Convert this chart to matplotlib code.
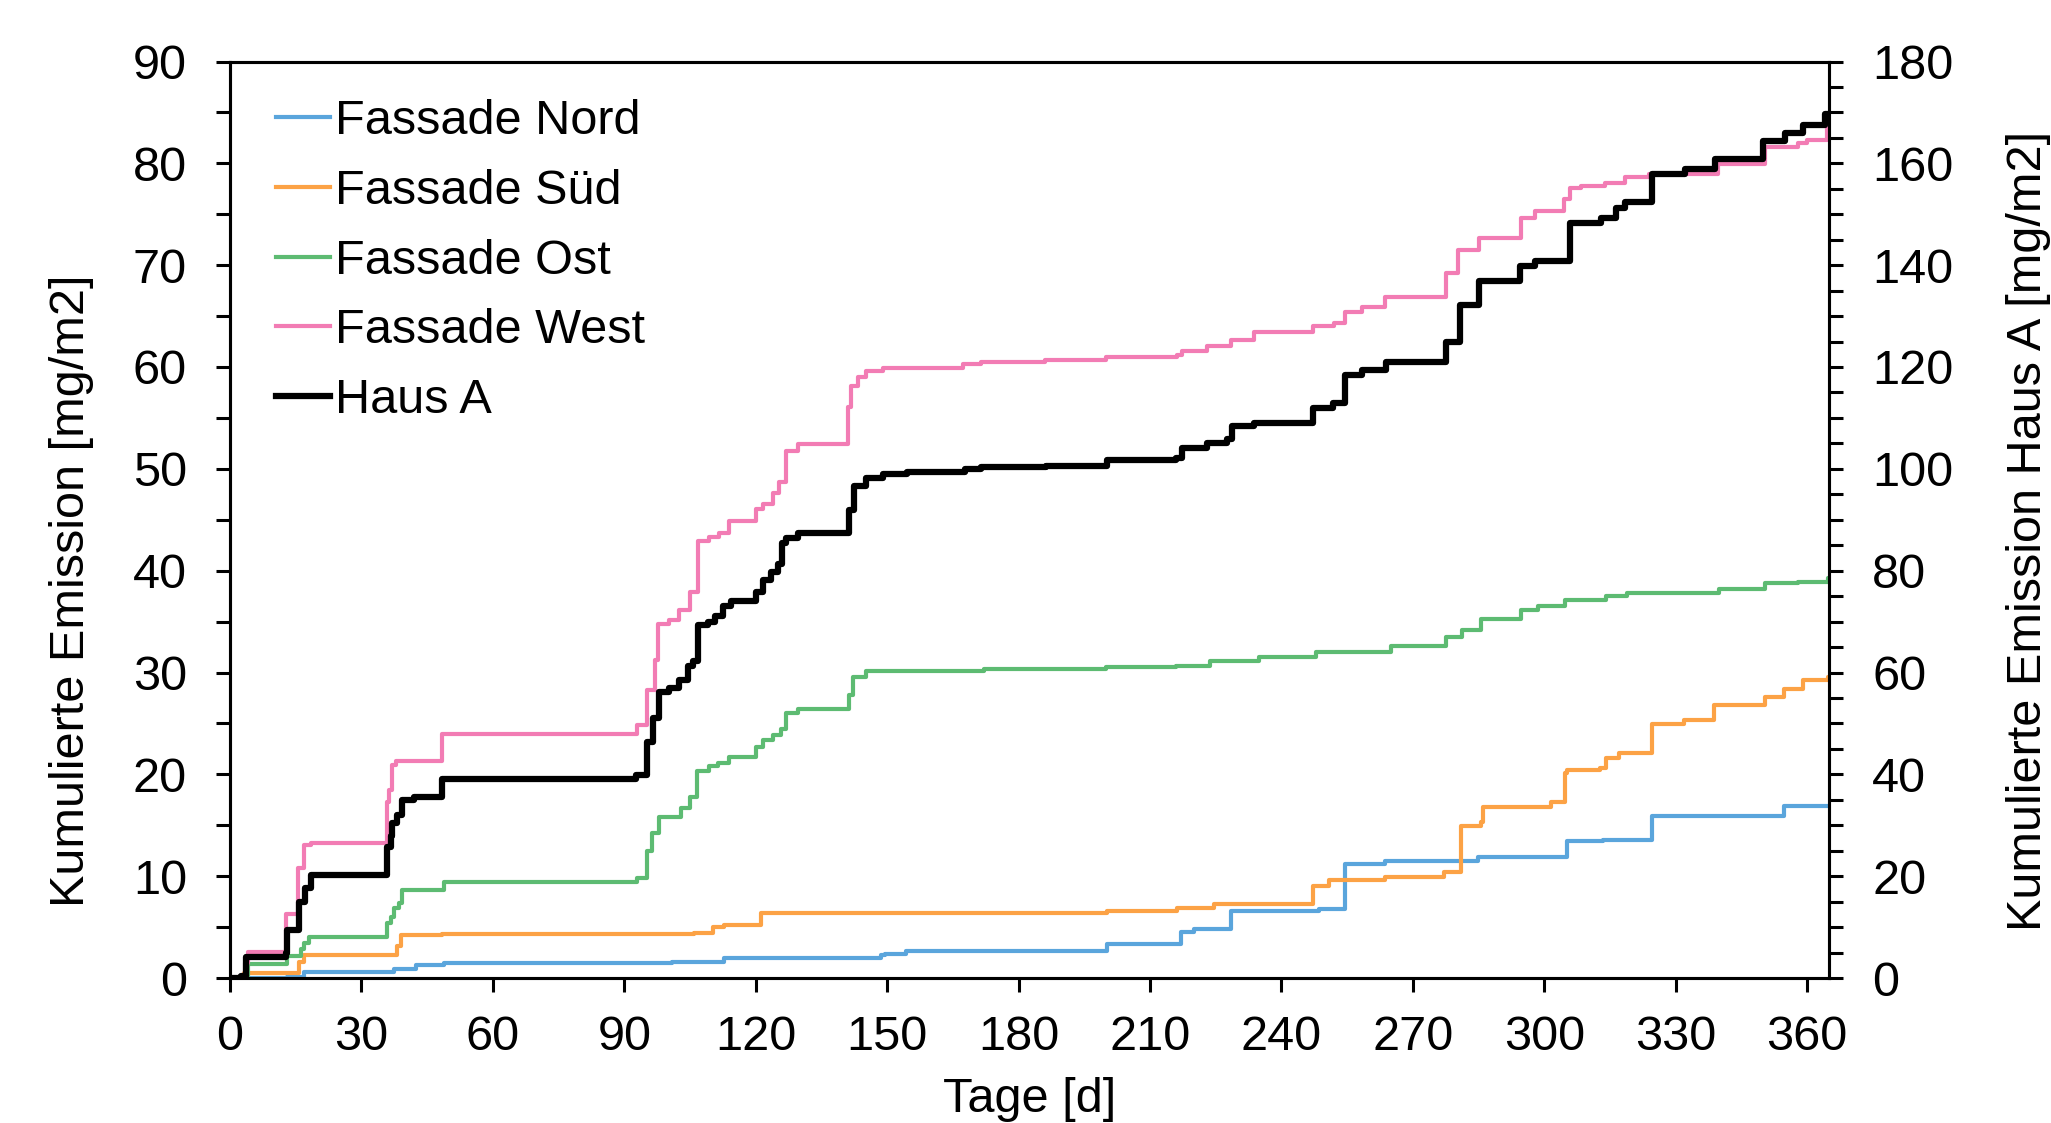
import matplotlib
matplotlib.use("Agg")
import matplotlib.pyplot as plt
from matplotlib.ticker import MultipleLocator

plt.rcParams['font.family'] = ['Liberation Sans', 'DejaVu Sans']

# ---------------- data (day, cumulative value) ----------------
nord_days = [0, 13, 16.9, 37.4, 42.4, 48.9, 101, 112.8, 148.6, 149.5, 154.3, 200.3, 217, 220.1,
             228.5, 248.6, 254.5, 263.6, 284.9, 305.2, 313.5, 324.5, 354.7, 365]
nord_vals = [0, 0.1, 0.6, 0.9, 1.3, 1.45, 1.6, 2.0, 2.26, 2.4, 2.7, 3.35, 4.5, 4.8,
             6.6, 6.8, 11.2, 11.5, 11.85, 13.45, 13.6, 15.9, 16.85, 16.9]

sued_days = [0, 3.2, 15.8, 16.9, 38.2, 39, 48.5, 105.9, 110.3, 112.8, 121.3, 200.3, 216.2, 224.6,
             247.1, 250.8, 263.6, 277.2, 280.9, 285.5, 286.1, 301.5, 304.7, 305.3, 312.7, 314, 317,
             324.5, 331.9, 338.7, 350.5, 354.8, 359.1, 364.7, 365]
sued_vals = [0, 0.5, 1.6, 2.3, 3.1, 4.2, 4.35, 4.45, 5.0, 5.2, 6.35, 6.6, 6.9, 7.3,
             9.0, 9.6, 9.95, 10.4, 14.9, 15.35, 16.8, 17.3, 20.1, 20.4, 20.6, 21.6, 22.1,
             24.95, 25.3, 26.8, 27.6, 28.35, 29.3, 29.6, 29.6]

ost_days = [0, 4, 13.1, 16.1, 17, 18, 35.9, 36.7, 37.4, 38.6, 39.3, 48.9, 93, 95.3, 96.3, 97.9,
            103, 105, 106.6, 109.4, 111.3, 114, 120.1, 121.6, 123.9, 125.8, 126.9, 129.6, 141.4,
            142.1, 145.2, 172, 200, 216, 223.6, 234.8, 247.8, 265.1, 277.5, 281.2, 285.5, 294.8,
            298.5, 304.7, 314, 319, 340, 350.5, 358, 364.7, 365]
ost_vals = [0, 1.4, 2.15, 2.8, 3.4, 4.05, 5.4, 6.0, 6.85, 7.4, 8.65, 9.45, 9.8, 12.5, 14.2, 15.85,
            16.7, 17.8, 20.3, 20.8, 21.1, 21.7, 22.7, 23.4, 23.9, 24.5, 26.0, 26.4, 27.8,
            29.6, 30.1, 30.3, 30.5, 30.65, 31.1, 31.5, 32.0, 32.6, 33.5, 34.2, 35.3, 36.1,
            36.5, 37.1, 37.5, 37.85, 38.2, 38.8, 38.9, 39.3, 39.3]

west_days = [0, 3.5, 4, 12.8, 15.5, 16.9, 18.4, 35.9, 36.4, 37, 37.8, 48.5, 93, 95.3, 96.9, 97.7,
             100.3, 102.6, 104.9, 106.8, 109.4, 111.7, 114, 120.1, 121.6, 123.9, 125.4, 126.9,
             129.6, 141, 141.7, 143.3, 145.2, 149, 167.3, 171.4, 186, 199.9, 216.2, 217.4, 223.1,
             228.4, 233.7, 247.1, 252, 254.5, 258.5, 263.7, 277.5, 280.4, 285, 294.8, 297.9,
             304.5, 305.9, 308.4, 313.9, 318.4, 323.8, 339.7, 350.4, 358, 360, 364.6, 365]
west_vals = [0, 1.5, 2.6, 6.3, 10.8, 13.1, 13.3, 17.3, 18.5, 20.9, 21.3, 24.0, 24.85, 28.3, 31.2,
             34.8, 35.2, 36.1, 37.9, 42.9, 43.3, 43.7, 44.9, 46.1, 46.5, 47.6, 48.75, 51.8, 52.4,
             56.1, 58.1, 59.0, 59.6, 59.9, 60.3, 60.5, 60.7, 61.0, 61.2, 61.6, 62.1, 62.7, 63.4,
             64.0, 64.3, 65.4, 65.9, 66.9, 69.2, 71.5, 72.7, 74.6, 75.3, 76.5, 77.6, 77.8, 78.1,
             78.7, 79.0, 79.9, 81.6, 82.0, 82.3, 83.5, 83.5]

haus_days = [0, 2.4, 3.6, 12.7, 13.1, 15.7, 17.2, 18.4, 35.9, 36.7, 37, 38.2, 39.3, 42, 48.5, 92.6,
             95.3, 96.5, 98, 100.3, 102.6, 104.5, 105.6, 106.8, 109, 110.6, 112.5, 114.4, 120.1,
             121.6, 123.5, 125, 126.1, 126.9, 129.6, 141.4, 142.5, 145.2, 149, 154.5, 167.7,
             171.4, 186.3, 200.3, 216, 217.4, 223.1, 227.5, 228.8, 233.7, 247.1, 251.7, 254.5,
             258.5, 263.8, 277.5, 280.8, 285, 294.5, 297.9, 305.9, 313, 316.4, 318.4, 324.5,
             332.1, 339, 350, 354.9, 359, 364, 365]
haus_vals = [0, 0.4, 4.2, 5.0, 9.4, 15.0, 17.6, 20.2, 25.8, 27.8, 30.4, 32.0, 35.0, 35.6, 39.0,
             39.8, 46.4, 51.0, 56.2, 57.0, 58.6, 61.2, 62.2, 69.4, 70.0, 71.0, 73.0, 74.0, 75.8,
             78.2, 79.8, 81.4, 85.4, 86.4, 87.4, 92.0, 96.6, 98.2, 99.0, 99.4, 100.0, 100.4,
             100.6, 101.8, 102.1, 104.0, 105.0, 105.8, 108.4, 109.0, 112.0, 113.0, 118.4, 119.4,
             121.0, 125.0, 132.2, 136.8, 139.8, 140.8, 148.2, 149.2, 151.2, 152.4, 158.0, 158.8,
             160.8, 164.4, 166.0, 167.6, 169.6, 169.6]

labels = ['Fassade Nord', 'Fassade Süd', 'Fassade Ost', 'Fassade West', 'Haus A']
colors = ['#5aa5dc', '#fca245', '#5dbb72', '#f27cb4', '#000000']

# ---------------- figure ----------------
fig = plt.figure(figsize=(20.51, 11.23), dpi=100)
ax = fig.add_axes([230 / 2051, 1 - 978 / 1123, (1829 - 230) / 2051, (978 - 61.5) / 1123])
ax2 = ax.twinx()

series = [(nord_days, nord_vals), (sued_days, sued_vals), (ost_days, ost_vals), (west_days, west_vals)]
handles = []
for (d, v), lab, c in zip(series, labels[:4], colors[:4]):
    h, = ax.plot(d, v, drawstyle='steps-post', color=c, lw=3.0, label=lab)
    handles.append(h)
h, = ax2.plot(haus_days, haus_vals, drawstyle='steps-post', color=colors[4], lw=4.5, label=labels[4])
handles.append(h)

ax.set_xlim(0, 365)
ax.set_ylim(0, 90)
ax2.set_ylim(0, 180)

ax.xaxis.set_major_locator(MultipleLocator(30))
ax.yaxis.set_major_locator(MultipleLocator(10))
ax.yaxis.set_minor_locator(MultipleLocator(5))
ax2.yaxis.set_major_locator(MultipleLocator(20))
ax2.yaxis.set_minor_locator(MultipleLocator(5))

fs = 35
for a in (ax, ax2):
    for s in a.spines.values():
        s.set_linewidth(2.2)
        s.set_color('black')
ax.tick_params(axis='x', which='major', direction='out', length=10, width=2.2, labelsize=fs, pad=17, top=False)
ax.tick_params(axis='y', which='major', direction='out', length=10, width=2.2, labelsize=fs, pad=21, right=False)
ax.tick_params(axis='y', which='minor', direction='out', length=10, width=2.2, right=False)
ax2.tick_params(axis='y', which='major', direction='out', length=10, width=2.2, labelsize=fs, pad=21)
ax2.tick_params(axis='y', which='minor', direction='out', length=10, width=2.2)

ax.set_xlabel('Tage [d]', fontsize=fs)
ax.set_ylabel('Kumulierte Emission [mg/m2]', fontsize=fs)
ax2.set_ylabel('Kumulierte Emission Haus A [mg/m2]', fontsize=fs, rotation=90)

ax.xaxis.set_label_coords(0.5, -0.133)
ax.xaxis.label.set_va('center')
ax.yaxis.set_label_coords(-0.099, 0.423)
ax.yaxis.label.set_va('center')
ax2.yaxis.set_label_coords(1.125, 0.488)
ax2.yaxis.label.set_va('center')

leg = ax2.legend(handles=handles, labels=labels, loc='upper left', bbox_to_anchor=(0.029, 0.959),
                 frameon=False, fontsize=fs, handlelength=1.1, handletextpad=0.1,
                 labelspacing=0.51, borderpad=0, borderaxespad=0)

fig.savefig('out.png', dpi=100)
